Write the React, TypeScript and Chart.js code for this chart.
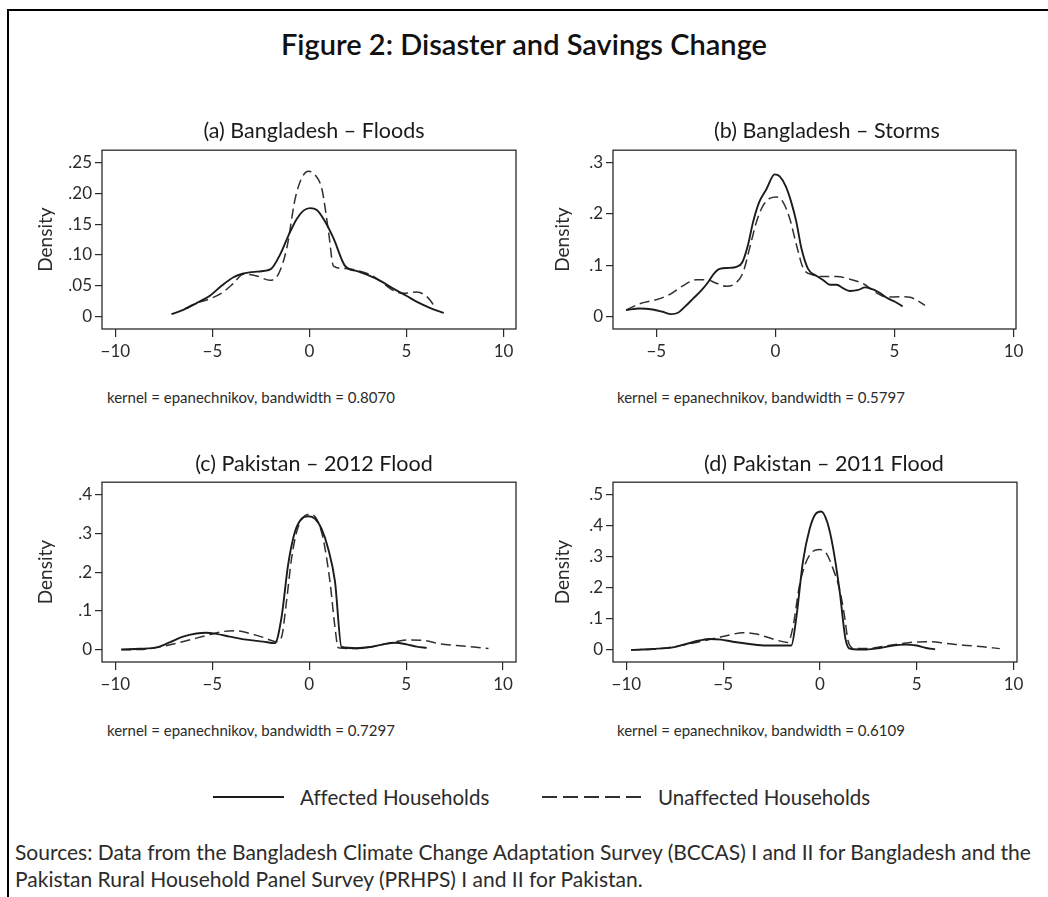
import React, { useEffect, useRef } from "react";
import { Chart, registerables } from "chart.js";

Chart.register(...registerables);

type Pt = [number, number];

// ---------- data (x = savings change, y = density) ----------
const floodsAffected: Pt[] = [
  [-7.11, 0.004], [-6.5, 0.011], [-5.82, 0.022], [-5.13, 0.034], [-4.53, 0.05],
  [-3.92, 0.064], [-3.41, 0.07], [-2.72, 0.073], [-2.0, 0.077], [-1.51, 0.101],
  [-1.08, 0.132], [-0.65, 0.159], [-0.31, 0.172], [0.03, 0.176], [0.38, 0.173],
  [0.81, 0.154], [1.24, 0.127], [1.84, 0.082], [2.44, 0.074], [2.96, 0.068],
  [3.65, 0.058], [4.34, 0.045], [4.99, 0.034], [5.54, 0.024], [6.23, 0.014],
  [6.92, 0.006],
];
const floodsUnaffected: Pt[] = [
  [-6.42, 0.013], [-5.82, 0.022], [-5.13, 0.029], [-4.53, 0.038], [-3.92, 0.054],
  [-3.41, 0.069], [-2.72, 0.066], [-2.03, 0.059], [-1.6, 0.069], [-1.17, 0.111],
  [-0.74, 0.191], [-0.4, 0.225], [-0.05, 0.236], [0.29, 0.23], [0.64, 0.207],
  [0.98, 0.138], [1.24, 0.082], [1.84, 0.078], [2.44, 0.075], [3.13, 0.068],
  [3.65, 0.058], [4.34, 0.042], [4.85, 0.038], [5.54, 0.04], [6.06, 0.032],
  [6.49, 0.015],
];
const stormsAffected: Pt[] = [
  [-6.27, 0.013], [-5.71, 0.016], [-5.15, 0.014], [-4.73, 0.0095], [-4.38, 0.005],
  [-4.09, 0.0076], [-3.81, 0.019], [-3.46, 0.035], [-3.11, 0.051], [-2.83, 0.067],
  [-2.58, 0.084], [-2.34, 0.093], [-1.92, 0.095], [-1.64, 0.097], [-1.39, 0.106],
  [-1.15, 0.14], [-0.94, 0.184], [-0.69, 0.222], [-0.38, 0.248], [-0.03, 0.277],
  [0.18, 0.273], [0.43, 0.254], [0.67, 0.222], [0.88, 0.184], [1.09, 0.133],
  [1.37, 0.093], [1.73, 0.079], [2.01, 0.071], [2.29, 0.062], [2.57, 0.062],
  [2.85, 0.055], [3.13, 0.05], [3.48, 0.052], [3.76, 0.057], [3.97, 0.055],
  [4.32, 0.048], [4.74, 0.035], [5.02, 0.029], [5.34, 0.02],
];
const stormsUnaffected: Pt[] = [
  [-6.27, 0.013], [-5.71, 0.025], [-5.01, 0.033], [-4.45, 0.043], [-3.89, 0.06],
  [-3.32, 0.072], [-2.9, 0.072], [-2.48, 0.065], [-2.06, 0.059], [-1.71, 0.064],
  [-1.36, 0.086], [-1.08, 0.134], [-0.8, 0.184], [-0.52, 0.216], [-0.24, 0.23],
  [0.04, 0.233], [0.32, 0.223], [0.6, 0.191], [0.88, 0.14], [1.16, 0.095],
  [1.58, 0.081], [2.01, 0.078], [2.57, 0.078], [3.13, 0.073], [3.69, 0.064],
  [4.25, 0.046], [4.67, 0.038], [5.23, 0.039], [5.65, 0.038], [5.93, 0.032],
  [6.28, 0.022],
];
const pk2012Affected: Pt[] = [
  [-9.7, 0.001], [-8.75, 0.0025], [-7.8, 0.007], [-7.2, 0.019], [-6.51, 0.034],
  [-5.82, 0.042], [-5.31, 0.044], [-4.79, 0.041], [-4.1, 0.034], [-3.24, 0.026],
  [-2.38, 0.021], [-1.77, 0.017], [-1.43, 0.083], [-1.09, 0.218], [-0.74, 0.303],
  [-0.4, 0.337], [-0.05, 0.344], [0.29, 0.338], [0.64, 0.311], [0.98, 0.26],
  [1.33, 0.176], [1.67, 0.007], [2.45, 0.004], [3.14, 0.007], [3.82, 0.014],
  [4.43, 0.018], [5.03, 0.014], [5.55, 0.008], [6.06, 0.005],
];
const pk2012Unaffected: Pt[] = [
  [-9.7, 0.0], [-8.58, 0.001], [-7.55, 0.009], [-6.68, 0.019], [-5.82, 0.03],
  [-5.13, 0.039], [-4.44, 0.047], [-3.76, 0.049], [-3.07, 0.042], [-2.38, 0.032],
  [-1.69, 0.021], [-1.43, 0.032], [-1.17, 0.125], [-0.91, 0.235], [-0.65, 0.303],
  [-0.31, 0.341], [0.03, 0.349], [0.38, 0.337], [0.72, 0.286], [1.07, 0.176],
  [1.33, 0.058], [1.5, 0.005], [2.27, 0.003], [3.14, 0.007], [3.82, 0.014],
  [4.51, 0.021], [5.03, 0.025], [5.89, 0.024], [6.75, 0.015], [7.61, 0.011],
  [8.48, 0.007], [9.25, 0.003],
];
const pk2011Affected: Pt[] = [
  [-9.76, 0.0], [-8.64, 0.003], [-7.6, 0.008], [-6.91, 0.019], [-6.22, 0.03],
  [-5.71, 0.035], [-5.1, 0.033], [-4.5, 0.026], [-3.64, 0.019], [-2.78, 0.014],
  [-2.09, 0.014], [-1.48, 0.014], [-1.22, 0.104], [-0.88, 0.283], [-0.53, 0.389],
  [-0.22, 0.437], [0.07, 0.445], [0.38, 0.41], [0.67, 0.331], [1.02, 0.188],
  [1.33, 0.032], [1.62, 0.003], [2.4, 0.001], [3.09, 0.006], [3.78, 0.014],
  [4.4, 0.017], [5.0, 0.014], [5.5, 0.006], [5.95, 0.002],
];
const pk2011Unaffected: Pt[] = [
  [-9.76, 0.0], [-8.47, 0.003], [-7.43, 0.011], [-6.4, 0.024], [-5.36, 0.038],
  [-4.67, 0.048], [-3.98, 0.055], [-3.29, 0.051], [-2.43, 0.035], [-1.66, 0.024],
  [-1.4, 0.072], [-1.05, 0.209], [-0.71, 0.283], [-0.36, 0.317], [-0.02, 0.323],
  [0.33, 0.31], [0.67, 0.262], [1.02, 0.193], [1.28, 0.104], [1.45, 0.03],
  [1.71, 0.006], [2.4, 0.004], [3.26, 0.011], [4.12, 0.019], [4.81, 0.025],
  [5.67, 0.026], [6.53, 0.021], [7.4, 0.015], [8.26, 0.011], [9.29, 0.004],
];

const xTicksFull = [-10, -5, 0, 5, 10];
const xTicksStorms = [-5, 0, 5, 10];
const yTicksFloods = [0, 0.05, 0.1, 0.15, 0.2, 0.25];
const yLabelsFloods = ["0", ".05", ".10", ".15", ".20", ".25"];
const yTicksStorms = [0, 0.1, 0.2, 0.3];
const yLabelsStorms = ["0", ".1", ".2", ".3"];
const yTicks2012 = [0, 0.1, 0.2, 0.3, 0.4];
const yLabels2012 = ["0", ".1", ".2", ".3", ".4"];
const yTicks2011 = [0, 0.1, 0.2, 0.3, 0.4, 0.5];
const yLabels2011 = ["0", ".1", ".2", ".3", ".4", ".5"];

const panelTitles = [
  "(a) Bangladesh \u2013 Floods",
  "(b) Bangladesh \u2013 Storms",
  "(c) Pakistan \u2013 2012 Flood",
  "(d) Pakistan \u2013 2011 Flood",
];
const bandwidths = ["0.8070", "0.5797", "0.7297", "0.6109"];
const seriesNames = ["Affected Households", "Unaffected Households"];

// ---------- layout ----------
const FONT = "Lato, 'Open Sans', sans-serif";
const TEXT = "#2b2b2b";

type PanelCfg = {
  affected: Pt[];
  unaffected: Pt[];
  xTicks: number[];
  yTicks: number[];
  yLabels: string[];
  xMin: number;
  xMax: number;
  yMin: number;
  yMax: number;
  box: { left: number; top: number; right: number; bottom: number };
  titlePad: number;
};

const panels: PanelCfg[] = [
  {
    affected: floodsAffected, unaffected: floodsUnaffected,
    xTicks: xTicksFull, yTicks: yTicksFloods, yLabels: yLabelsFloods,
    xMin: -10.69, xMax: 10.64, yMin: -0.02, yMax: 0.27,
    box: { left: 102, top: 147, right: 516, bottom: 329 }, titlePad: 14,
  },
  {
    affected: stormsAffected, unaffected: stormsUnaffected,
    xTicks: xTicksStorms, yTicks: yTicksStorms, yLabels: yLabelsStorms,
    xMin: -6.82, xMax: 10.1, yMin: -0.024, yMax: 0.324,
    box: { left: 613, top: 147, right: 1016, bottom: 329 }, titlePad: 20,
  },
  {
    affected: pk2012Affected, unaffected: pk2012Unaffected,
    xTicks: xTicksFull, yTicks: yTicks2012, yLabels: yLabels2012,
    xMin: -10.69, xMax: 10.67, yMin: -0.0315, yMax: 0.4315,
    box: { left: 102, top: 479, right: 516, bottom: 662 }, titlePad: 14,
  },
  {
    affected: pk2011Affected, unaffected: pk2011Unaffected,
    xTicks: xTicksFull, yTicks: yTicks2011, yLabels: yLabels2011,
    xMin: -10.69, xMax: 10.18, yMin: -0.039, yMax: 0.539,
    box: { left: 613, top: 479, right: 1017, bottom: 662 }, titlePad: 20,
  },
];

const Y_AXIS_W = 82;
const X_AXIS_H = 40;
const PAD_TOP = 10;
const PAD_RIGHT = 12;

const boxPlugin = {
  id: "plotBox",
  afterDraw(chart: any) {
    const { ctx, chartArea } = chart;
    const { left, top, right, bottom } = chartArea;
    ctx.save();
    ctx.strokeStyle = "#2a2a2a";
    ctx.lineWidth = 1.3;
    ctx.strokeRect(left, top, right - left, bottom - top);
    ctx.restore();
  },
};

const fmtX = (v: number) => (v < 0 ? "\u2212" + Math.abs(v) : String(v));

function Panel({ cfg }: { cfg: PanelCfg }) {
  const ref = useRef<HTMLCanvasElement>(null);
  const w = cfg.box.right - cfg.box.left + Y_AXIS_W + PAD_RIGHT;
  const h = cfg.box.bottom - cfg.box.top + PAD_TOP + X_AXIS_H;
  const left = cfg.box.left - Y_AXIS_W;
  const top = cfg.box.top - PAD_TOP;

  useEffect(() => {
    const tickFont = { family: FONT, size: 17 };
    const chart = new Chart(ref.current as HTMLCanvasElement, {
      type: "scatter",
      data: {
        datasets: [
          {
            label: seriesNames[0],
            data: cfg.affected.map(([x, y]) => ({ x, y })),
            showLine: true,
            borderColor: "#1c1c1c",
            borderWidth: 1.9,
            pointRadius: 0,
            cubicInterpolationMode: "monotone",
            fill: false,
          },
          {
            label: seriesNames[1],
            data: cfg.unaffected.map(([x, y]) => ({ x, y })),
            showLine: true,
            borderColor: "#303030",
            borderWidth: 1.5,
            borderDash: [10, 5],
            pointRadius: 0,
            cubicInterpolationMode: "monotone",
            fill: false,
          },
        ],
      },
      options: {
        animation: false,
        responsive: false,
        maintainAspectRatio: false,
        layout: { padding: { top: PAD_TOP, right: PAD_RIGHT, left: 0, bottom: 0 } },
        plugins: {
          legend: { display: false },
          tooltip: { enabled: false },
          title: { display: false },
        },
        scales: {
          x: {
            type: "linear",
            min: cfg.xMin,
            max: cfg.xMax,
            afterBuildTicks: (s: any) => {
              s.ticks = cfg.xTicks.map((v) => ({ value: v }));
            },
            afterFit: (s: any) => {
              s.height = X_AXIS_H;
            },
            ticks: {
              callback: (v: any) => fmtX(Number(v)),
              font: tickFont,
              color: TEXT,
              padding: 4,
              maxRotation: 0,
              autoSkip: false,
            },
            grid: {
              display: true,
              drawOnChartArea: false,
              drawTicks: true,
              tickLength: 8,
              color: "#2a2a2a",
              lineWidth: 1.2,
            },
            border: { display: false },
          },
          y: {
            type: "linear",
            min: cfg.yMin,
            max: cfg.yMax,
            afterBuildTicks: (s: any) => {
              s.ticks = cfg.yTicks.map((v) => ({ value: v }));
            },
            afterFit: (s: any) => {
              s.width = Y_AXIS_W;
            },
            ticks: {
              callback: (_v: any, i: number) => cfg.yLabels[i],
              font: tickFont,
              color: TEXT,
              padding: 3,
              autoSkip: false,
            },
            grid: {
              display: true,
              drawOnChartArea: false,
              drawTicks: true,
              tickLength: 7,
              color: "#2a2a2a",
              lineWidth: 1.2,
            },
            border: { display: false },
            title: {
              display: true,
              text: "Density",
              font: { family: FONT, size: 19 },
              color: TEXT,
              padding: { top: cfg.titlePad, bottom: 0 },
            },
          },
        },
      } as any,
      plugins: [boxPlugin],
    });
    return () => chart.destroy();
  }, []);

  return (
    <canvas
      ref={ref}
      width={w}
      height={h}
      style={{ position: "absolute", left, top, width: w, height: h }}
    />
  );
}

const abs = (o: React.CSSProperties): React.CSSProperties => ({ position: "absolute", ...o });

export default function App() {
  const titleCenters = [
    [314, 130],
    [827, 130],
    [314, 463],
    [824, 463],
  ];
  const noteAnchors = [
    [107, 397],
    [617, 397],
    [107, 730],
    [617, 730],
  ];
  return (
    <div
      style={{
        position: "absolute",
        left: 0,
        top: 0,
        width: 1048,
        height: 897,
        background: "#fff",
        overflow: "hidden",
        fontFamily: FONT,
        color: TEXT,
        fontVariantLigatures: "none",
      }}
    >
      {/* page frame */}
      <div style={abs({ left: 7, top: 9, width: 1048, height: 900, borderTop: "2.5px solid #000", borderLeft: "2.5px solid #000" })} />

      <div
        style={abs({
          left: 0,
          top: 26,
          width: 1048,
          textAlign: "center",
          fontSize: 29,
          lineHeight: "36px",
          fontWeight: 600,
          color: "#111",
        })}
      >
        Figure 2: Disaster and Savings Change
      </div>

      {panels.map((p, i) => (
        <Panel key={i} cfg={p} />
      ))}

      {panelTitles.map((t, i) => (
        <div
          key={"t" + i}
          style={abs({
            left: titleCenters[i][0] - 200,
            top: titleCenters[i][1] - 13,
            width: 400,
            textAlign: "center",
            fontSize: 21.5,
            lineHeight: "26px",
            color: "#1a1a1a",
          })}
        >
          {t}
        </div>
      ))}

      {bandwidths.map((b, i) => (
        <div
          key={"n" + i}
          style={abs({
            left: noteAnchors[i][0],
            top: noteAnchors[i][1] - 9,
            fontSize: 15,
            lineHeight: "18px",
            whiteSpace: "nowrap",
          })}
        >
          {"kernel = epanechnikov, bandwidth = " + b}
        </div>
      ))}

      {/* legend */}
      <svg style={abs({ left: 0, top: 785, width: 1048, height: 24 })} width={1048} height={24}>
        <line x1={213} y1={12} x2={284} y2={12} stroke="#1c1c1c" strokeWidth={2} />
        <line x1={542} y1={12} x2={641} y2={12} stroke="#303030" strokeWidth={1.8} strokeDasharray="15 6" />
      </svg>
      <div style={abs({ left: 300, top: 784, fontSize: 20.5, lineHeight: "26px", whiteSpace: "nowrap" })}>
        {seriesNames[0]}
      </div>
      <div style={abs({ left: 658, top: 784, fontSize: 20.5, lineHeight: "26px", whiteSpace: "nowrap" })}>
        {seriesNames[1]}
      </div>

      <div
        style={abs({
          left: 15,
          top: 838,
          width: 1033,
          fontSize: 21,
          lineHeight: "27px",
          whiteSpace: "nowrap",
        })}
      >
        Sources: Data from the Bangladesh Climate Change Adaptation Survey (BCCAS) I and II for Bangladesh and the
        <br />
        Pakistan Rural Household Panel Survey (PRHPS) I and II for Pakistan.
      </div>
    </div>
  );
}
